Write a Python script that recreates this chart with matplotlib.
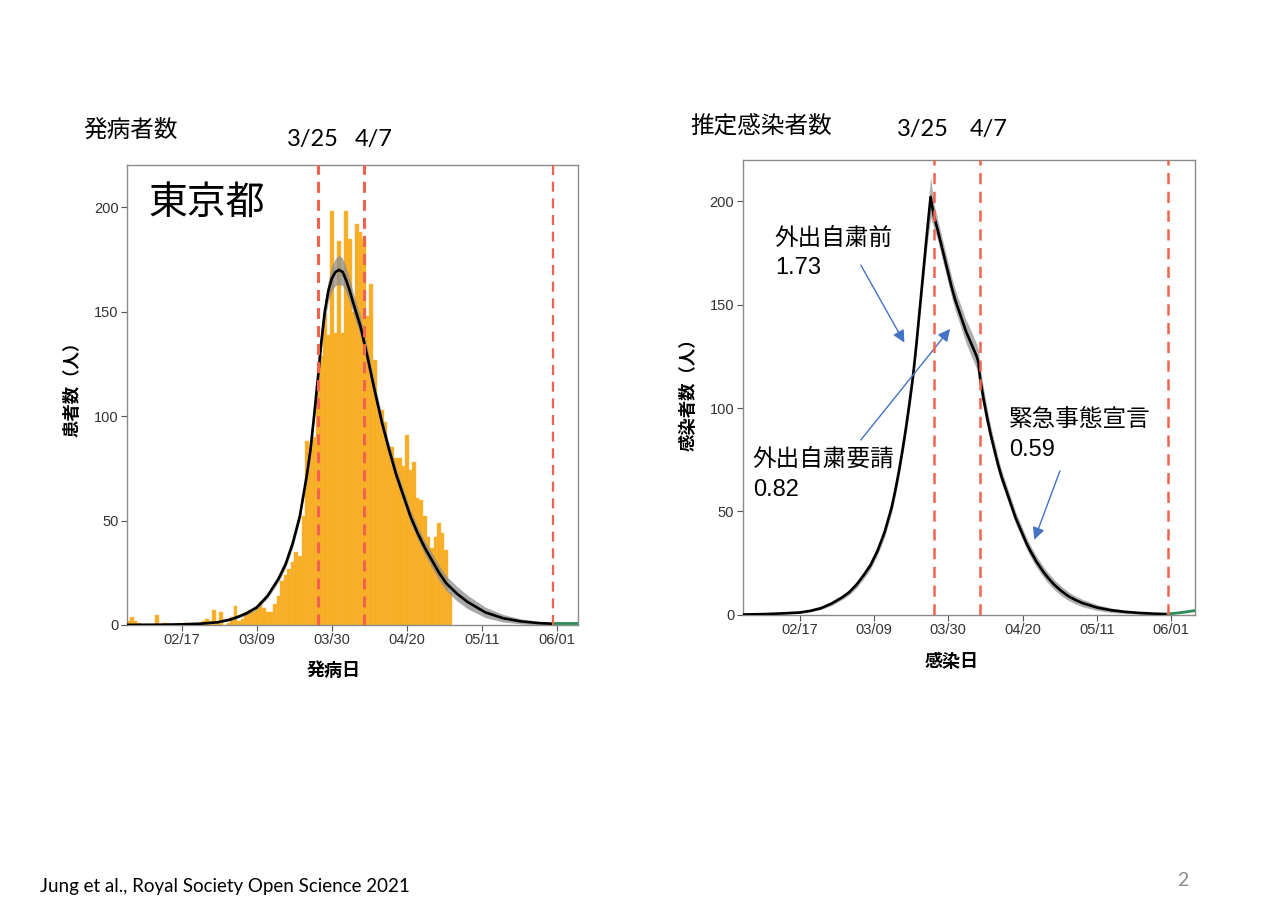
# %%
# Packages
import matplotlib
matplotlib.use('Agg')
import matplotlib.pyplot as plt
import numpy as np
import pandas as pd

plt.rcParams['font.family'] = ['Liberation Sans', 'Noto Sans CJK JP', 'DejaVu Sans']

# %%
# Data. Days are counted from 2020-02-17.
day0 = pd.Timestamp('2020-02-17')

# Daily onset counts, Tokyo, one bar per day from 02/02 to 05/02
onset_start = '2020-02-02'
onset_counts = [2, 4, 2, 1, 0, 0, 0, 0, 5, 0,
                1, 1, 0, 0, 1, 0, 1, 1, 1, 1,
                1, 2, 3, 2, 7, 2, 6, 0, 1, 4,
                9, 2, 3, 6, 7, 6, 8, 11, 8, 6,
                6, 10, 14, 21, 24, 27, 30, 35, 33, 52,
                88, 85, 90, 115, 129, 149, 139, 198, 140, 184,
                140, 198, 185, 150, 192, 188, 185, 148, 163, 127,
                103, 103, 97, 85, 85, 80, 80, 76, 91, 74,
                78, 61, 60, 52, 42, 37, 42, 49, 44, 36,
                16]

# Fitted onset curve and its band half-width
onset_fit_day = [-16, -10, -5, 0, 5, 10, 14, 18, 21, 24,
                 27, 29, 31, 33, 35, 36, 37, 38, 39, 40,
                 41, 42, 43, 44, 45, 46, 47, 48, 50, 52,
                 54, 56, 58, 60, 62, 64, 66, 68, 70, 72,
                 74, 77, 80, 85, 90, 95, 100, 104]
onset_fit = [0.05, 0.1, 0.15, 0.3, 0.6, 1.3, 2.8, 5.5, 8.5, 14,
             22, 29, 39, 52, 72, 84, 100, 117, 135, 150,
             160, 166, 169, 170, 169, 165, 160, 154, 143, 128,
             112, 97, 84, 72, 62, 52, 44, 37, 31, 25,
             20, 15, 11, 6, 3.2, 1.7, 0.9, 0.6]
onset_ci = [0.1, 0.1, 0.1, 0.2, 0.3, 0.4, 0.6, 0.8, 1, 1.2,
            1.5, 1.8, 2, 2.2, 2.5, 2.8, 3, 3.5, 4, 4.5,
            5, 6, 6.5, 7, 6.5, 6, 5.5, 5, 4.5, 4,
            3.5, 3.2, 3, 3, 3, 3, 3, 3.2, 3.5, 3.5,
            3.5, 3.5, 3.2, 2.5, 1.8, 1.2, 0.8, 0.5]

# Estimated infections curve and its band half-width
infect_day = [-17, -12, -8, -4, 0, 3, 6, 9, 12, 14,
              16, 18, 20, 22, 24, 26, 27, 28, 29, 30,
              31, 32, 33, 34, 35, 36, 37, 37.9, 39, 40,
              41, 42, 43, 44, 45, 46, 47, 48, 49, 50,
              50.5, 51, 52, 53, 54, 55, 56, 57, 58, 59,
              60, 61, 62, 63, 64, 65, 66, 67, 68, 69,
              70, 72, 74, 76, 78, 80, 84, 88, 92, 96,
              100, 104]
infect_fit = [0.2, 0.35, 0.55, 0.85, 1.2, 2.0, 3.3, 5.5, 8.5, 11,
              14.5, 19, 24, 31, 40, 52, 60, 69, 79, 90,
              102, 115, 131, 149, 167, 185, 202, 193, 186, 179,
              172, 165, 158, 152, 147, 142, 137, 133, 129, 125,
              122, 114, 104, 95, 87, 80, 73, 67, 62, 57,
              52, 47, 43, 39, 35, 31.5, 28.5, 25.5, 23, 20.5,
              18.3, 14.5, 11.5, 9, 7.2, 5.7, 3.6, 2.3, 1.5, 1.0,
              0.65, 0.4]
infect_ci = [0.1, 0.15, 0.2, 0.3, 0.4, 0.5, 0.7, 0.9, 1.1, 1.3,
             1.5, 1.7, 1.9, 2.1, 2.3, 2.5, 2.6, 2.8, 3, 3.2,
             3.4, 3.6, 3.8, 4, 5, 6.5, 10, 6, 5, 5,
             5, 5, 5, 5, 5, 5.5, 5.5, 6, 6, 6,
             6, 5.5, 5, 4.5, 4, 3.8, 3.5, 3.3, 3.1, 3,
             3, 2.9, 2.8, 2.8, 2.8, 2.7, 2.7, 2.6, 2.6, 2.5,
             2.5, 2.4, 2.3, 2.1, 1.9, 1.8, 1.4, 1.1, 0.8, 0.6,
             0.5, 0.4]

# Projection tail (green)
tail_day = [104, 108, 112]
tail_onset = [1.0, 1.0, 1.0]
tail_infect = [0.5, 1.2, 2.2]

# Event dates (dashed lines)
event_dates = ['2020-03-26', '2020-04-08', '2020-05-31']

# Axis ticks
tick_dates = ['2020-02-17', '2020-03-09', '2020-03-30', '2020-04-20', '2020-05-11', '2020-06-01']
tick_labels = ['02/17', '03/09', '03/30', '04/20', '05/11', '06/01']
y_ticks = [0, 50, 100, 150, 200]

# Right panel annotations: label, R value, arrow tip (day, count)
notes = ['外出自粛前', '外出自粛要請', '緊急事態宣言']
r_values = ['1.73', '0.82', '0.59']
note_tip_day = [29.6, 42.5, 66.3]
note_tip_val = [131.6, 138.2, 36.4]


def to_dates(days):
    return day0 + pd.to_timedelta(np.asarray(days, dtype=float), unit='D')


# %%
# Figure
fig = plt.figure(figsize=(12.8, 9.08), dpi=100)
ax1 = fig.add_axes([0.0992, 0.3117, 0.3523, 0.5061])
ax2 = fig.add_axes([0.5802, 0.3227, 0.3534, 0.5015])

jp = ['Noto Sans CJK JP', 'DejaVu Sans']
red = '#F2634F'
blue = '#4472C4'


def style_axis(ax, xlim_days):
    ax.set_xlim(to_dates(xlim_days))
    ax.set_ylim(0, 220)
    ax.set_xticks(pd.to_datetime(tick_dates))
    ax.set_xticklabels(tick_labels)
    ax.set_yticks(y_ticks)
    for side, spine in ax.spines.items():
        spine.set_color('#8a8a8a')
        spine.set_linewidth(1.0)
    ax.tick_params(direction='out', length=4, width=0.8, color='#555555',
                   labelsize=10.5, labelcolor='#333333', pad=2)


# Left: onset counts
bar_dates = pd.date_range(onset_start, periods=len(onset_counts), freq='D')
ax1.bar(bar_dates, onset_counts, width=1.0, color='#F9AD23',
        edgecolor='#F7B847', linewidth=0.3, zorder=1)
x_fit = to_dates(onset_fit_day)
fit = np.array(onset_fit)
ci = np.array(onset_ci)
ax1.fill_between(x_fit, fit - ci, fit + ci, color='#8c8c8c', alpha=0.75,
                 linewidth=0, zorder=2)
ax1.plot(x_fit, fit, color='black', lw=1.9, zorder=3)
ax1.plot(to_dates(tail_day), tail_onset, color='#2E8B57', lw=2, zorder=3)
for i, d in enumerate(event_dates):
    ax1.axvline(pd.Timestamp(d), color=red, lw=2.2 if i < 2 else 1.6,
                linestyle=(0, (3.6, 2.3)) if i < 2 else (0, (4.5, 3)), zorder=4)
style_axis(ax1, [-15.4, 110.9])

# Right: estimated infections
x_inf = to_dates(infect_day)
inf = np.array(infect_fit)
ci_inf = np.array(infect_ci)
ax2.fill_between(x_inf, inf - ci_inf, inf + ci_inf, color='#8c8c8c', alpha=0.7,
                 linewidth=0, zorder=2)
ax2.plot(x_inf, inf, color='black', lw=1.9, zorder=3)
ax2.plot(to_dates(tail_day), tail_infect, color='#2E8B57', lw=2, zorder=3)
for d in event_dates:
    ax2.axvline(pd.Timestamp(d), color=red, lw=1.8,
                linestyle=(0, (4.5, 3)), zorder=4)
style_axis(ax2, [-16.1, 111.7])

# Annotations with arrows
note_xy = [(0.6053, 0.7373), (0.5881, 0.4946), (0.7885, 0.5381)]
value_y = [0.7044, 0.4607, 0.5041]
tail_xy = [(0.6725, 0.7081), (0.6725, 0.5154), (0.8281, 0.4814)]
tips = to_dates(note_tip_day)
for i in range(len(notes)):
    fig.text(note_xy[i][0], note_xy[i][1], notes[i], family=jp, fontsize=17,
             ha='left', va='center')
    fig.text(note_xy[i][0], value_y[i], r_values[i], family=['Liberation Sans'],
             fontsize=17, ha='left', va='center')
    ax2.annotate('', xy=(tips[i], note_tip_val[i]), xycoords='data',
                 xytext=tail_xy[i], textcoords='figure fraction',
                 arrowprops=dict(arrowstyle='-|>,head_length=0.6,head_width=0.3',
                                 color=blue, lw=1.0, shrinkA=0, shrinkB=0,
                                 mutation_scale=12))

# Panel texts
fig.text(0.1156, 0.7764, '東京都', family=jp, fontsize=28, ha='left', va='center')
fig.text(0.0648, 0.8557, '発病者数', family=jp, fontsize=17, ha='left', va='center')
fig.text(0.5391, 0.8601, '推定感染者数', family=jp, fontsize=17, ha='left', va='center')
for x, y, s in [(0.2242, 0.8469, '3/25'), (0.2773, 0.8469, '4/7'),
                (0.7008, 0.8579, '3/25'), (0.7578, 0.8579, '4/7')]:
    fig.text(x, y, s, family=['Lato', 'DejaVu Sans'], fontsize=17, ha='left', va='center')

# Axis labels
fig.text(0.0570, 0.5760, '患者数（人）', family=jp, fontsize=12.5, fontweight='bold',
         rotation=90, ha='center', va='center')
fig.text(0.5383, 0.5705, '感染者数（人）', family=jp, fontsize=12.5, fontweight='bold',
         rotation=90, ha='center', va='center')
fig.text(0.2609, 0.2621, '発病日', family=jp, fontsize=13, fontweight='bold',
         ha='center', va='center')
fig.text(0.7438, 0.2720, '感染日', family=jp, fontsize=13, fontweight='bold',
         ha='center', va='center')

# Footer
fig.text(0.03125, 0.0242, 'Jung et al., Royal Society Open Science 2021',
         family=['Lato', 'DejaVu Sans'], fontsize=13.5, ha='left', va='center')
fig.text(0.9242, 0.0308, '2', family=['Lato', 'DejaVu Sans'], fontsize=14,
         color='#8c8c8c', ha='center', va='center')

fig.savefig('out.png', dpi=100)
